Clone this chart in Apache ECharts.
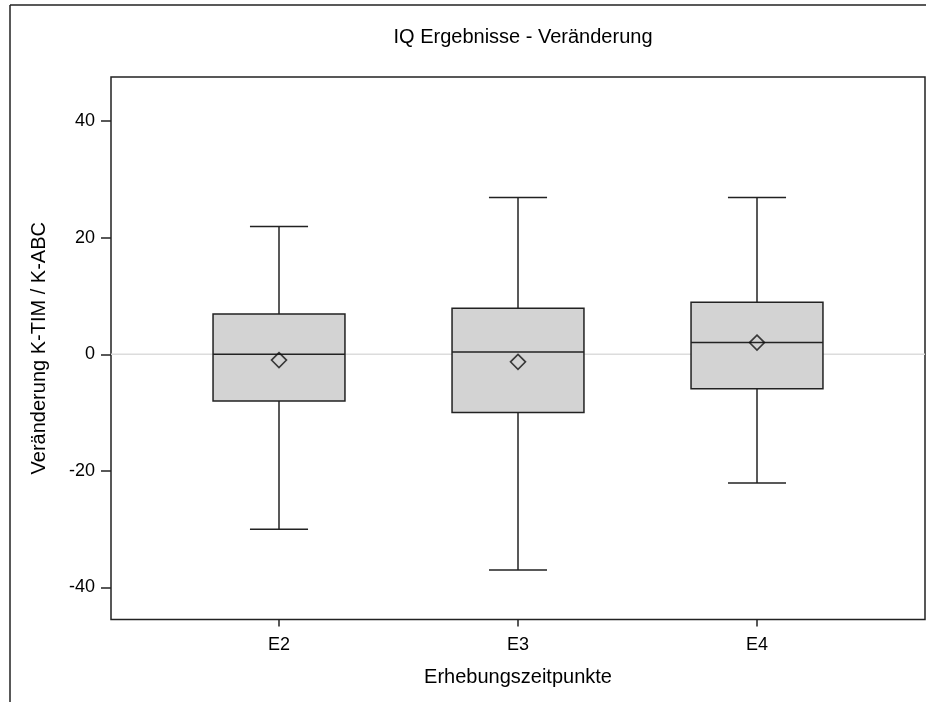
<!DOCTYPE html>
<html>
<head>
<meta charset="utf-8">
<script src="https://cdn.jsdelivr.net/npm/echarts@6/dist/echarts.min.js"></script>
<style>html,body{margin:0;padding:0;background:#fff}#c{width:931px;height:702px}</style>
</head>
<body>
<div id="c"></div>
<script>
var categories = ['E2', 'E3', 'E4'];
var whiskerLow = [-30, -37, -22.1];
var q1 = [-8, -10, -5.9];
var median = [0, 0.4, 2];
var q3 = [6.9, 7.9, 8.9];
var whiskerHigh = [21.9, 26.9, 26.9];
var means = [-1.0, -1.3, 2.0];
var yTicks = [-40, -20, 0, 20, 40];
var refLineY = 0;

var FONT = '"Liberation Sans", Arial, sans-serif';
var yMin = -45.5, yMax = 47.56;

var boxData = categories.map(function (c, i) {
  return [i, whiskerLow[i], q1[i], median[i], q3[i], whiskerHigh[i]];
});
var meanData = categories.map(function (c, i) { return [i, means[i]]; });

function renderBox(params, api) {
  var x = api.value(0);
  var band = api.size([1, 0])[0];
  var bh = band * 0.276;
  var ch = band * 0.1215;
  var pMin = api.coord([x, api.value(1)]);
  var pQ1 = api.coord([x, api.value(2)]);
  var pMed = api.coord([x, api.value(3)]);
  var pQ3 = api.coord([x, api.value(4)]);
  var pMax = api.coord([x, api.value(5)]);
  var cx = pMed[0];
  var ls = { stroke: '#222', lineWidth: 1.5, fill: null };
  return {
    type: 'group',
    children: [
      { type: 'line', shape: { x1: cx, y1: pMax[1], x2: cx, y2: pQ3[1] }, style: ls },
      { type: 'line', shape: { x1: cx, y1: pMin[1], x2: cx, y2: pQ1[1] }, style: ls },
      { type: 'line', shape: { x1: cx - ch, y1: pMax[1], x2: cx + ch, y2: pMax[1] }, style: ls },
      { type: 'line', shape: { x1: cx - ch, y1: pMin[1], x2: cx + ch, y2: pMin[1] }, style: ls },
      { type: 'rect', shape: { x: cx - bh, y: pQ3[1], width: 2 * bh, height: pQ1[1] - pQ3[1] },
        style: { fill: '#d3d3d3', stroke: '#222', lineWidth: 1.5 } },
      { type: 'line', shape: { x1: cx - bh, y1: pMed[1], x2: cx + bh, y2: pMed[1] }, style: ls }
    ]
  };
}

var chart = echarts.init(document.getElementById('c'), null, { renderer: 'canvas' });
chart.setOption({
  animation: false,
  backgroundColor: '#fff',
  title: {
    text: 'IQ Ergebnisse - Veränderung',
    left: 518, top: 22, textAlign: 'center',
    textStyle: { fontFamily: FONT, fontSize: 20, fontWeight: 'normal', color: '#000' }
  },
  graphic: [
    { type: 'line', shape: { x1: 10, y1: 5, x2: 926, y2: 5 }, style: { stroke: '#222', lineWidth: 1.5 }, silent: true },
    { type: 'line', shape: { x1: 10, y1: 5, x2: 10, y2: 702 }, style: { stroke: '#222', lineWidth: 1.5 }, silent: true }
  ],
  grid: [
    { left: 111, right: 6, top: 77, bottom: 82.5, show: true, borderColor: '#222', borderWidth: 1.5, backgroundColor: 'transparent' },
    { left: 159.5, right: 54.5, top: 77, bottom: 82.5 }
  ],
  xAxis: [
    { gridIndex: 0, type: 'value', min: 0, max: 1, show: false },
    {
      gridIndex: 1, type: 'category', data: categories, boundaryGap: true, position: 'bottom',
      name: 'Erhebungszeitpunkte', nameLocation: 'middle', nameGap: 48,
      nameTextStyle: { fontFamily: FONT, fontSize: 20, color: '#000' },
      axisLine: { show: false, onZero: false },
      axisTick: { show: true, alignWithLabel: true, length: 7, lineStyle: { color: '#222', width: 1.5 } },
      axisLabel: { margin: 17, fontFamily: FONT, fontSize: 18, color: '#000' },
      splitLine: { show: false }
    }
  ],
  yAxis: [
    {
      gridIndex: 0, type: 'value', min: yMin, max: yMax,
      name: 'Veränderung K-TIM / K-ABC', nameLocation: 'middle', nameGap: 62,
      nameTextStyle: { fontFamily: FONT, fontSize: 20, color: '#000' },
      axisLine: { show: false },
      axisTick: { show: true, length: 10, customValues: yTicks, lineStyle: { color: '#222', width: 1.5 } },
      axisLabel: { margin: 16, fontFamily: FONT, fontSize: 18, color: '#000', customValues: yTicks },
      splitLine: { show: false }
    },
    { gridIndex: 1, type: 'value', min: yMin, max: yMax, show: false, splitLine: { show: false } }
  ],
  series: [
    {
      type: 'line', xAxisIndex: 0, yAxisIndex: 0, z: 1,
      data: [[0, refLineY], [1, refLineY]], symbol: 'none',
      lineStyle: { color: '#dcdcdc', width: 1.5 }, silent: true
    },
    {
      type: 'custom', xAxisIndex: 1, yAxisIndex: 1, z: 3,
      renderItem: renderBox, data: boxData,
      encode: { x: 0, y: [1, 2, 3, 4, 5] }
    },
    {
      type: 'scatter', xAxisIndex: 1, yAxisIndex: 1, z: 4,
      data: meanData, symbol: 'diamond', symbolSize: [15, 15],
      itemStyle: { color: 'rgba(0,0,0,0)', borderColor: '#111', borderWidth: 1.6 }
    }
  ]
});
</script>
</body>
</html>
